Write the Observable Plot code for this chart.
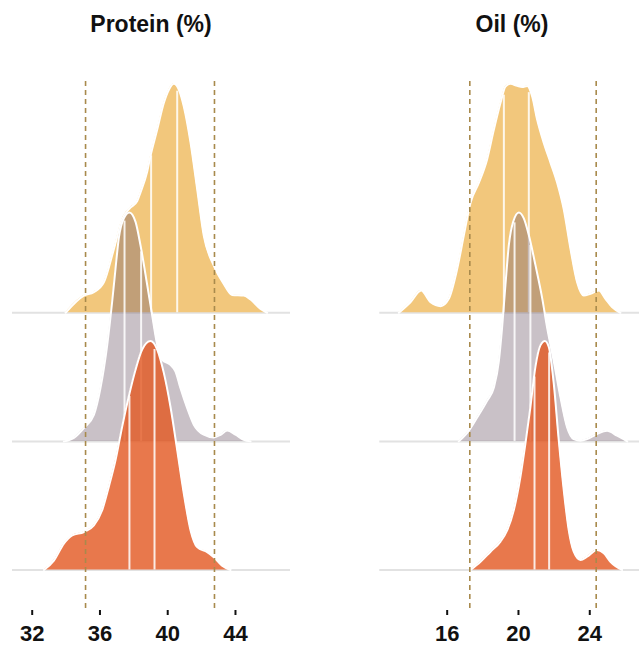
<!DOCTYPE html>
<html>
<head>
<meta charset="utf-8">
<script src="https://cdn.jsdelivr.net/npm/d3@7"></script>
<script src="https://cdn.jsdelivr.net/npm/@observablehq/plot@0.6"></script>
<style>
  html, body { margin: 0; padding: 0; background: #fff; }
  #wrap { position: relative; width: 639px; height: 647px; overflow: hidden; font-family: "Liberation Sans", Arial, sans-serif; }
  .facet { position: absolute; top: 0; }
  .title { position: absolute; top: 11px; font-weight: bold; font-size: 23px; color: #111; text-align: center; white-space: nowrap; transform: translateX(-50%); }
</style>
</head>
<body>
<div id="wrap"></div>
<script>
// ---- Data ----
const facetTitles = ["Protein (%)", "Oil (%)"];

// density profiles: [value, relative height (peak = 1)]
const proteinYellow = [[33.97,0],[35.05,0.075],[35.64,0.09],[36.23,0.133],[36.82,0.278],[37.31,0.409],[37.80,0.459],[38.20,0.488],[38.39,0.525],[38.79,0.617],[38.98,0.684],[39.38,0.80],[39.77,0.916],[40.07,0.974],[40.36,1.0],[40.66,0.974],[40.95,0.901],[41.35,0.742],[41.74,0.539],[42.13,0.336],[42.72,0.206],[43.31,0.126],[43.80,0.078],[44.49,0.075],[44.89,0.058],[45.48,0.017],[45.87,0]];
const proteinGray = [[33.87,0],[34.46,0.015],[35.05,0.058],[35.64,0.116],[36.03,0.233],[36.43,0.422],[36.72,0.61],[36.92,0.756],[37.11,0.887],[37.41,0.974],[37.74,1.0],[38.10,0.959],[38.39,0.858],[38.79,0.683],[39.08,0.552],[39.38,0.422],[39.67,0.356],[40.16,0.334],[40.46,0.305],[40.75,0.233],[41.15,0.145],[41.54,0.073],[42.13,0.029],[42.72,0.017],[43.12,0.029],[43.51,0.047],[44.00,0.029],[44.49,0.007],[44.89,0]];
const proteinOrange = [[32.69,0],[33.28,0.041],[33.87,0.115],[34.36,0.151],[35.05,0.166],[35.64,0.195],[36.13,0.261],[36.52,0.363],[36.92,0.48],[37.31,0.626],[37.70,0.758],[38.10,0.875],[38.49,0.963],[38.98,1.0],[39.38,0.963],[39.77,0.861],[40.16,0.714],[40.56,0.524],[40.95,0.334],[41.35,0.173],[41.74,0.10],[42.33,0.078],[42.72,0.056],[43.21,0.019],[43.71,0]];

const oilYellow = [[13.29,0],[13.94,0.046],[14.54,0.097],[15.07,0.046],[15.63,0.029],[16.09,0.061],[16.56,0.191],[16.93,0.336],[17.31,0.481],[17.78,0.568],[18.24,0.67],[18.62,0.80],[18.99,0.916],[19.27,0.988],[19.55,1.0],[19.93,0.991],[20.21,0.986],[20.49,0.991],[20.77,0.945],[21.05,0.843],[21.42,0.742],[21.80,0.655],[22.17,0.568],[22.54,0.452],[22.92,0.278],[23.29,0.133],[23.66,0.075],[24.04,0.083],[24.51,0.097],[24.88,0.061],[25.25,0.025],[25.72,0]];
const oilGray = [[16.65,0],[17.21,0.046],[17.68,0.104],[18.24,0.177],[18.62,0.235],[18.90,0.351],[19.08,0.496],[19.27,0.684],[19.46,0.858],[19.70,0.959],[20.02,1.0],[20.30,0.974],[20.58,0.901],[20.95,0.771],[21.33,0.626],[21.61,0.496],[21.98,0.351],[22.36,0.191],[22.73,0.061],[23.10,0.010],[23.48,0.003],[23.85,0.010],[24.41,0.032],[24.97,0.046],[25.53,0.025],[26.10,0]];
const oilOrange = [[17.31,0],[17.87,0.036],[18.43,0.08],[18.99,0.124],[19.37,0.174],[19.74,0.262],[20.11,0.407],[20.39,0.552],[20.67,0.712],[20.95,0.887],[21.23,0.981],[21.48,1.0],[21.70,0.974],[21.98,0.814],[22.26,0.567],[22.54,0.349],[22.82,0.174],[23.10,0.08],[23.48,0.044],[23.85,0.058],[24.41,0.087],[24.79,0.073],[25.16,0.036],[25.81,0]];

// quantile (white) lines per group: yellow, gray, orange
const proteinQuantiles = [[39.02, 40.56], [37.45, 38.43], [37.74, 39.22]];
const oilQuantiles = [[19.18, 20.58], [19.78, 20.67], [20.90, 21.72]];

// dashed reference limits
const proteinLimits = [35.15, 42.76];
const oilLimits = [17.27, 24.36];

// tick labels
const proteinTicks = [32, 36, 40, 44];
const oilTicks = [16, 20, 24];

// ---- Styling ----
const rows = [2, 1, 0];               // yellow top, gray middle, orange bottom
const fills = ["rgb(242,199,124)", "rgb(120,100,115)", "rgb(227,90,35)"];
const fillOpacities = [1, 0.4, 0.815];
const K = 1.78;                        // peak height in row units

function heightAt(profile, v) {
  for (let i = 1; i < profile.length; i++) {
    const [x0, h0] = profile[i - 1], [x1, h1] = profile[i];
    if (v >= x0 && v <= x1) return h0 + (h1 - h0) * (v - x0) / (x1 - x0);
  }
  return 0;
}

function facet({width, marginLeft, marginRight, domain, series, quantiles, limits, ticks}) {
  const marks = [
    Plot.ruleY(rows, {y: d => d, stroke: "#e2e2e2", strokeWidth: 2})
  ];
  series.forEach((profile, i) => {
    const row = rows[i];
    const data = profile.map(([x, h]) => ({x, y0: row, y: row + h * K}));
    marks.push(Plot.areaY(data, {x: "x", y1: "y0", y2: "y", fill: fills[i], fillOpacity: fillOpacities[i], curve: "monotone-x"}));
    marks.push(Plot.ruleX(quantiles[i], {x: d => d, y1: row, y2: d => row + heightAt(profile, d) * K * 0.985, stroke: "white", strokeWidth: 2, strokeOpacity: 0.85}));
    marks.push(Plot.lineY(data, {x: "x", y: "y", stroke: "white", strokeWidth: 2, curve: "monotone-x"}));
  });
  marks.push(Plot.ruleX(limits, {x: d => d, y1: -0.3, y2: 3.806, stroke: "#a88a4c", strokeWidth: 1.6, strokeDasharray: "5,4"}));
  marks.push(Plot.axisX({ticks, tickSize: 5, tickPadding: 10, strokeWidth: 2, fontSize: 22, fontWeight: "bold", label: null, tickFormat: d => String(d)}));
  return Plot.plot({
    width, height: 647,
    marginLeft, marginRight, marginTop: 0, marginBottom: 37,
    x: {domain},
    y: {domain: [-0.315, 4.428], axis: null},
    style: {fontFamily: "Liberation Sans, Arial, sans-serif", color: "#111", background: "transparent", overflow: "visible"},
    marks
  });
}

const wrap = document.getElementById("wrap");

const p1 = facet({width: 300, marginLeft: 12, marginRight: 10, domain: [30.837, 47.248],
  series: [proteinYellow, proteinGray, proteinOrange], quantiles: proteinQuantiles, limits: proteinLimits, ticks: proteinTicks});
p1.classList.add("facet"); p1.style.left = "0px";
wrap.appendChild(p1);

const p2 = facet({width: 319, marginLeft: 59.3, marginRight: 0, domain: [12.22, 26.79],
  series: [oilYellow, oilGray, oilOrange], quantiles: oilQuantiles, limits: oilLimits, ticks: oilTicks});
p2.classList.add("facet"); p2.style.left = "320px";
wrap.appendChild(p2);

const titleCenters = [151, 512];
facetTitles.forEach((t, i) => {
  const d = document.createElement("div");
  d.className = "title";
  d.textContent = t;
  d.style.left = titleCenters[i] + "px";
  wrap.appendChild(d);
});
</script>
</body>
</html>
